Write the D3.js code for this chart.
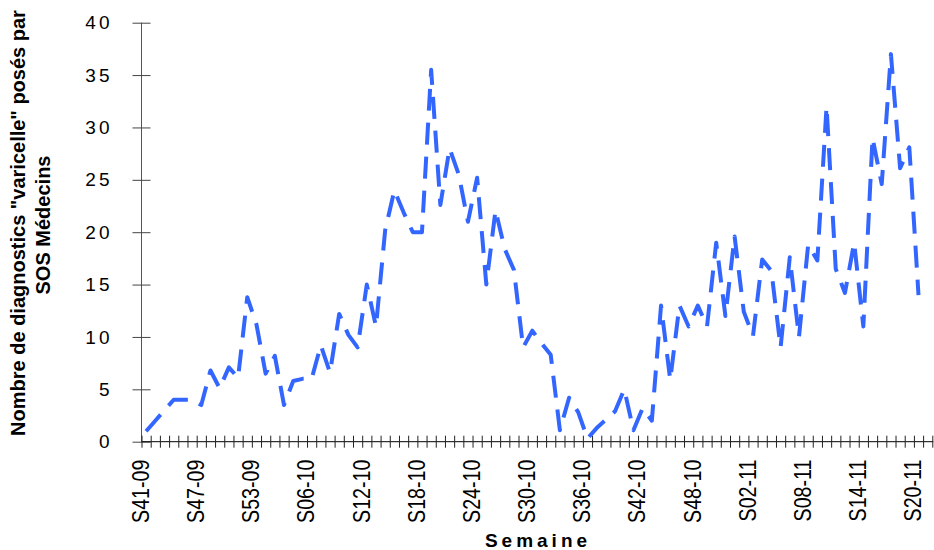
<!DOCTYPE html>
<html lang="fr">
<head>
<meta charset="UTF-8">
<title>varicelle SOS Medecins</title>
<script src="https://d3js.org/d3.v7.min.js"></script>
<style>
    body { margin: 0; background: #fff; }
    text { font-family: "Liberation Sans", Arial, sans-serif; }
</style>
</head>
<body>
<svg id="chart" width="934" height="550"></svg>
<script>
    // weeks (categories)
    const weeks = [
        "S41-09","S42-09","S43-09","S44-09","S45-09","S46-09","S47-09","S48-09","S49-09","S50-09","S51-09","S52-09","S53-09",
        "S01-10","S02-10","S03-10","S04-10","S05-10","S06-10","S07-10","S08-10","S09-10","S10-10","S11-10","S12-10","S13-10",
        "S14-10","S15-10","S16-10","S17-10","S18-10","S19-10","S20-10","S21-10","S22-10","S23-10","S24-10","S25-10","S26-10",
        "S27-10","S28-10","S29-10","S30-10","S31-10","S32-10","S33-10","S34-10","S35-10","S36-10","S37-10","S38-10","S39-10",
        "S40-10","S41-10","S42-10","S43-10","S44-10","S45-10","S46-10","S47-10","S48-10","S49-10","S50-10","S51-10","S52-10",
        "S01-11","S02-11","S03-11","S04-11","S05-11","S06-11","S07-11","S08-11","S09-11","S10-11","S11-11","S12-11","S13-11",
        "S14-11","S15-11","S16-11","S17-11","S18-11","S19-11","S20-11","S21-11"
    ];
    // number of diagnoses per week, last week empty
    const diagnostics = [
        1, 2, 3, 4, 4, 4, 3.5, 6.8, 5.1, 7.1, 6.1, 13.8, 11.2,
        6.5, 8.2, 3.5, 5.8, 6, 6, 9.2, 6.6, 12.2, 10.2, 9, 15, 11,
        20.2, 24, 21.9, 20, 20, 35.5, 22.6, 28, 25.5, 21, 25.2, 15, 22.1,
        18.4, 16.4, 9, 10.6, 9.4, 8.3, 1.1, 4.2, 2.8, 0.3, 1.3, 2.1, 2.9,
        5, 1.1, 3.2, 2, 13, 5.9, 13, 11, 13, 11, 19, 12, 19.6,
        12.4, 10.1, 17.4, 16.3, 9, 17.6, 10, 18.8, 17.3, 32, 16.5, 14.2, 19,
        11, 29, 24.6, 37, 26.1, 28.1, 14
    ];
    const yTicks = [0, 5, 10, 15, 20, 25, 30, 35, 40];
    const xTickLabels = ["S41-09","S47-09","S53-09","S06-10","S12-10","S18-10","S24-10","S30-10",
        "S36-10","S42-10","S48-10","S02-11","S08-11","S14-11","S20-11"];

    const svg = d3.select("#chart");
    const plotLeft = 141.5, plotRight = 932.3, plotTop = 22.7, plotBottom = 441.7;

    const x = d3.scaleBand().domain(weeks).range([plotLeft, plotRight]).padding(0);
    const xEdges = d3.scaleLinear().domain([0, weeks.length]).range([plotLeft, plotRight]);
    const y = d3.scaleLinear().domain([0, 40]).range([plotBottom, plotTop]);

    // y axis
    const gy = svg.append("g")
        .attr("transform", `translate(${plotLeft},0)`)
        .call(d3.axisLeft(y).tickValues(yTicks).tickSize(9).tickPadding(20)
            .tickFormat(d => d));
    gy.select(".domain").attr("stroke", "#555").attr("d", `M0,${plotBottom}V${plotTop}`);
    gy.selectAll(".tick line").attr("x1", 9).attr("stroke", "#444");
    gy.selectAll(".tick text")
        .attr("font-size", 19)
        .attr("letter-spacing", 3)
        .attr("fill", "#000");

    // x axis: tick marks between categories
    const gx = svg.append("g")
        .attr("transform", `translate(0,${plotBottom})`)
        .call(d3.axisBottom(xEdges).tickValues(d3.range(weeks.length + 1)).tickSize(6).tickFormat(""));
    gx.select(".domain").attr("stroke", "#000").attr("d", `M${plotLeft},0H${plotRight + 1}`);
    gx.selectAll(".tick line").attr("y1", -6).attr("stroke", "#222");

    // x labels (rotated, a little stretched like the original)
    const gl = svg.append("g")
        .attr("transform", `translate(0,${plotBottom})`)
        .call(d3.axisBottom(x).tickValues(xTickLabels).tickSize(0).tickPadding(0));
    gl.select(".domain").remove();
    gl.selectAll(".tick text")
        .attr("font-size", 20)
        .attr("fill", "#000")
        .attr("text-anchor", "end")
        .attr("transform", "translate(-5.5,18) rotate(-90) scale(0.98,1.15)")
        .attr("x", 0)
        .attr("y", 0)
        .attr("dy", "0.36em");

    // line
    const line = d3.line()
        .x((d, i) => x(weeks[i]) + x.bandwidth() / 2)
        .y(d => y(d));

    svg.append("path")
        .datum(diagnostics)
        .attr("d", line)
        .attr("fill", "none")
        .attr("stroke", "#3366ff")
        .attr("stroke-width", 4)
        .attr("stroke-dasharray", "22,12")
        .attr("stroke-linejoin", "round");

    // axis titles
    svg.append("text")
        .attr("x", 538)
        .attr("y", 547)
        .attr("text-anchor", "middle")
        .attr("font-size", 19)
        .attr("font-weight", "bold")
        .attr("letter-spacing", 4)
        .text("Semaine");

    svg.append("text")
        .attr("transform", "translate(25,223) rotate(-90)")
        .attr("text-anchor", "middle")
        .attr("font-size", 20)
        .attr("font-weight", "bold")
        .text("Nombre de diagnostics \"varicelle\" posés par");

    svg.append("text")
        .attr("transform", "translate(50,225) rotate(-90)")
        .attr("text-anchor", "middle")
        .attr("font-size", 20)
        .attr("font-weight", "bold")
        .text("SOS Médecins");
</script>
</body>
</html>
